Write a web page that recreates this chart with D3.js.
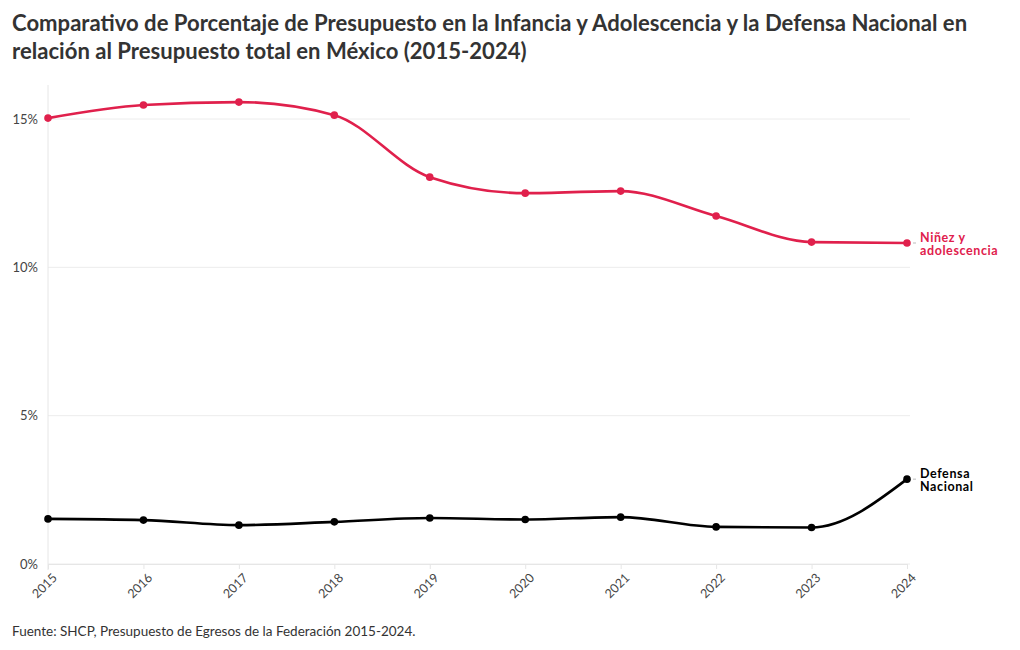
<!DOCTYPE html>
<html><head><meta charset="utf-8">
<script src="https://cdn.jsdelivr.net/npm/d3@7"></script>
<style>body{margin:0;background:#fff;font-family:Lato,"Open Sans",sans-serif;}</style>
</head><body><svg id="c" width="1020" height="650"></svg>
<script>
const years = [2015,2016,2017,2018,2019,2020,2021,2022,2023,2024];
const ninez = [15.03,15.47,15.57,15.13,13.04,12.50,12.57,11.73,10.85,10.82];
const defensa = [1.52,1.48,1.31,1.42,1.55,1.50,1.58,1.25,1.23,2.86];
const yTicks = [0,5,10,15];
const titleLines = ["Comparativo de Porcentaje de Presupuesto en la Infancia y Adolescencia y la Defensa Nacional en","relación al Presupuesto total en México (2015-2024)"];
const source = "Fuente: SHCP, Presupuesto de Egresos de la Federación 2015-2024.";
const series = [
  {name:["Niñez y","adolescencia"], values:ninez, color:"#e0204c"},
  {name:["Defensa","Nacional"], values:defensa, color:"#000000"}
];

const svg = d3.select("#c");
const x = d3.scaleLinear().domain([2015,2024]).range([48,907]);
const y = d3.scaleLinear().domain([0,15]).range([564,119]);

svg.selectAll("text.title").data(titleLines).join("text")
  .attr("x",12).attr("y",(d,i)=>31+i*28)
  .attr("font-size",22.1).attr("font-weight",700).attr("fill","#333")
  .text(d=>d);

// grid
svg.append("g").selectAll("line").data(yTicks).join("line")
  .attr("x1",48).attr("x2",910).attr("y1",d=>y(d)).attr("y2",d=>y(d))
  .attr("stroke","#ececec").attr("stroke-width",1);
svg.append("line").attr("x1",48).attr("x2",48).attr("y1",85).attr("y2",570)
  .attr("stroke","#e6e6e6");

// y labels
svg.append("g").selectAll("text").data(yTicks).join("text")
  .attr("x",38).attr("y",d=>y(d)+4.5).attr("text-anchor","end")
  .attr("font-size",13).attr("fill","#444").text(d=>d+"%");

// x axis
const xa = svg.append("g").attr("transform","translate(0,564)")
  .call(d3.axisBottom(x).tickValues(years).tickFormat(d3.format("d")).tickSize(5).tickPadding(5));
xa.select(".domain").attr("stroke","#e6e6e6");
xa.selectAll(".tick line").attr("stroke","#e6e6e6");
xa.selectAll(".tick text").attr("font-size",12.5).attr("fill","#444")
  .attr("font-family","Lato, sans-serif")
  .attr("text-anchor","end").attr("dx","-0.3em").attr("dy","0.55em").attr("transform","rotate(-45)");

const line = d3.line().x((d,i)=>x(years[i])).y(d=>y(d)).curve(d3.curveMonotoneX);
series.forEach(s=>{
  const g = svg.append("g");
  g.append("path").attr("d",line(s.values)).attr("fill","none")
    .attr("stroke",s.color).attr("stroke-width",2.6);
  g.selectAll("circle").data(s.values).join("circle")
    .attr("cx",(d,i)=>x(years[i])).attr("cy",d=>y(d)).attr("r",3.8).attr("fill",s.color);
  const last = s.values[s.values.length-1];
  g.append("line").attr("x1",x(2024)+6).attr("x2",x(2024)+9)
    .attr("y1",y(last)).attr("y2",y(last)).attr("stroke","#bbb");
  g.selectAll("text").data(s.name).join("text")
    .attr("x",x(2024)+13).attr("y",(d,i)=>y(last)-1.5+i*13.5)
    .attr("font-size",12.5).attr("font-weight",700).attr("fill",s.color)
    .attr("letter-spacing","0.6px").text(d=>d);
});

svg.append("text").attr("x",12).attr("y",636).attr("font-size",13.5).attr("fill","#333").text(source);
</script></body></html>
